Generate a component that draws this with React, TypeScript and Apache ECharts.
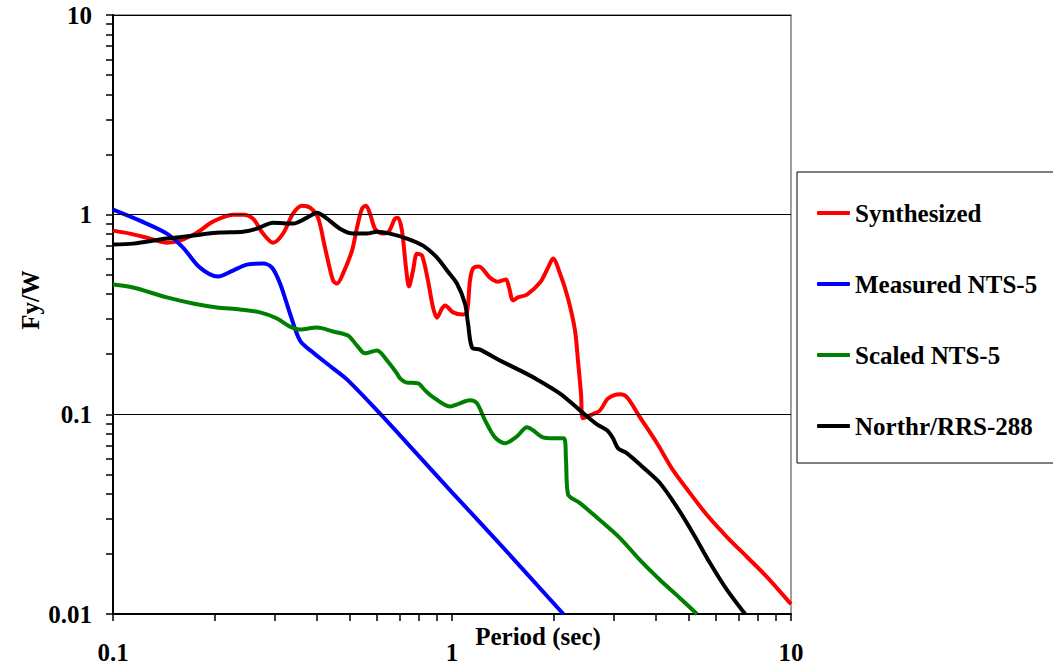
import React, { useEffect, useRef } from "react";
import * as echarts from "echarts";

// Yield-strength spectra: Fy/W against period (sec), log-log axes.
const SERIES_NAMES = ["Synthesized", "Measured NTS-5", "Scaled NTS-5", "Northr/RRS-288"];
const SERIES_COLORS = ["#FF0000", "#0000FF", "#008000", "#000000"];

const synthesized: [number, number][] = [
  [0.1, 0.832], [0.1122, 0.804], [0.1285, 0.759], [0.1442, 0.724], [0.1576, 0.741],
  [0.1769, 0.813], [0.1972, 0.923], [0.2259, 1.0], [0.2418, 1.0], [0.2588, 0.955],
  [0.2771, 0.804], [0.2965, 0.724], [0.3174, 0.804], [0.3396, 1.012], [0.3609, 1.109],
  [0.3812, 1.084], [0.4025, 0.966], [0.422, 0.684], [0.4457, 0.468], [0.4579, 0.452],
  [0.477, 0.507], [0.507, 0.661], [0.5245, 0.861], [0.5425, 1.072], [0.5574, 1.109],
  [0.5728, 1.012], [0.5927, 0.851], [0.6215, 0.804], [0.6473, 0.813], [0.6788, 0.955],
  [0.6928, 0.966], [0.7119, 0.832], [0.7315, 0.543], [0.7467, 0.437], [0.7674, 0.525],
  [0.7885, 0.638], [0.8156, 0.624], [0.8494, 0.468], [0.879, 0.343], [0.9033, 0.305],
  [0.9344, 0.339], [0.9537, 0.351], [1.007, 0.324], [1.077, 0.316], [1.107, 0.324],
  [1.13, 0.468], [1.153, 0.537], [1.201, 0.55], [1.293, 0.484], [1.367, 0.462],
  [1.443, 0.473], [1.473, 0.432], [1.514, 0.372], [1.565, 0.385], [1.664, 0.398],
  [1.818, 0.457], [1.92, 0.543], [1.986, 0.603], [2.083, 0.507], [2.199, 0.38],
  [2.306, 0.263], [2.353, 0.186], [2.402, 0.127], [2.435, 0.0955], [2.554, 0.0989],
  [2.733, 0.1047], [2.885, 0.12], [3.13, 0.126], [3.283, 0.1218], [3.586, 0.0966],
  [4.025, 0.0716], [4.487, 0.0525], [5.036, 0.0403], [5.652, 0.0313], [6.474, 0.0243],
  [7.418, 0.0193], [8.5, 0.0153], [10, 0.0112],
];

const measuredNts5: [number, number][] = [
  [0.1, 1.06], [0.1201, 0.933], [0.1442, 0.804], [0.1609, 0.684], [0.1805, 0.543],
  [0.204, 0.49], [0.2259, 0.525], [0.2484, 0.562], [0.2771, 0.569], [0.2944, 0.543],
  [0.311, 0.452], [0.3327, 0.32], [0.356, 0.2344], [0.389, 0.204], [0.4457, 0.17],
  [0.4898, 0.1496], [0.6008, 0.1047], [0.7026, 0.0785], [1.0, 0.0407], [1.385, 0.0224],
  [2.13, 0.01],
];

const scaledNts5: [number, number][] = [
  [0.1, 0.447], [0.1146, 0.432], [0.1442, 0.385], [0.1722, 0.359], [0.2026, 0.343],
  [0.2369, 0.335], [0.2715, 0.324], [0.3046, 0.302], [0.3327, 0.275], [0.356, 0.266],
  [0.3998, 0.272], [0.4457, 0.26], [0.4933, 0.248], [0.5245, 0.221], [0.5537, 0.202],
  [0.6008, 0.209], [0.6433, 0.186], [0.6882, 0.16], [0.7026, 0.1514], [0.7315, 0.1445],
  [0.794, 0.143], [0.8326, 0.1318], [0.873, 0.123], [0.9865, 0.1096], [1.13, 0.1175],
  [1.185, 0.1135], [1.252, 0.0933], [1.339, 0.0767], [1.433, 0.0716], [1.555, 0.0776],
  [1.664, 0.0861], [1.734, 0.0832], [1.855, 0.0767], [1.986, 0.0759], [2.14, 0.0759],
  [2.169, 0.0589], [2.199, 0.0398], [2.385, 0.0359], [2.733, 0.0295], [3.13, 0.024],
  [3.586, 0.0186], [4.109, 0.0148], [4.706, 0.012], [5.28, 0.01],
];

const northridgeRrs288: [number, number][] = [
  [0.1, 0.708], [0.1146, 0.716], [0.1442, 0.759], [0.1805, 0.794], [0.2068, 0.813],
  [0.2418, 0.822], [0.266, 0.851], [0.2965, 0.912], [0.3396, 0.902], [0.3736, 0.966],
  [0.3998, 1.023], [0.4278, 0.955], [0.4673, 0.851], [0.5105, 0.804], [0.5614, 0.804],
  [0.6008, 0.822], [0.6562, 0.804], [0.7368, 0.759], [0.8213, 0.7], [0.9033, 0.61],
  [0.9667, 0.525], [1.034, 0.452], [1.092, 0.359], [1.115, 0.285], [1.146, 0.216],
  [1.21, 0.211], [1.385, 0.186], [1.587, 0.166], [1.781, 0.1496], [2.083, 0.127],
  [2.385, 0.1047], [2.677, 0.0891], [2.866, 0.0832], [2.985, 0.0759], [3.089, 0.0676],
  [3.283, 0.0638], [3.659, 0.0543], [4.109, 0.0452], [4.61, 0.0343], [5.139, 0.0254],
  [5.769, 0.018], [6.474, 0.0132], [7.32, 0.01],
];

// Log-cycle tick positions (1..9 within each decade)
const xTickValues = [
  0.1, 0.2, 0.3, 0.4, 0.5, 0.6, 0.7, 0.8, 0.9,
  1, 2, 3, 4, 5, 6, 7, 8, 9, 10,
];
const yTickValues = [
  0.01, 0.02, 0.03, 0.04, 0.05, 0.06, 0.07, 0.08, 0.09,
  0.1, 0.2, 0.3, 0.4, 0.5, 0.6, 0.7, 0.8, 0.9,
  1, 2, 3, 4, 5, 6, 7, 8, 9, 10,
];
// Horizontal grid lines at the decades
const yGridValues = [0.1, 1, 10];

const X_MIN = 0.1;
const X_MAX = 10;
const Y_MIN = 0.01;
const Y_MAX = 10;

const FONT = "'Liberation Serif', 'Times New Roman', serif";

const GRID = { left: 113, top: 15, width: 678, height: 599 };

const fmt = (v: number) => String(Number(v.toPrecision(3)));

export default function App() {
  const mainRef = useRef<HTMLDivElement>(null);
  const tickRef = useRef<HTMLDivElement>(null);

  useEffect(() => {
    if (!mainRef.current || !tickRef.current) return;
    const chart = echarts.init(mainRef.current, undefined, { renderer: "svg" });
    const ticks = echarts.init(tickRef.current, undefined, { renderer: "svg" });

    const lineSeries: any[] = [synthesized, measuredNts5, scaledNts5, northridgeRrs288].map((data, i) => ({
      name: SERIES_NAMES[i],
      type: "line",
      data,
      symbol: "none",
      smooth: 0.3,
      lineStyle: { width: 4 },
    }));
    lineSeries[0].markLine = {
      silent: true,
      symbol: ["none", "none"],
      label: { show: false },
      lineStyle: { color: "#000", width: 1, type: "solid" },
      data: yGridValues.map((v) => ({ yAxis: v })),
    };

    chart.setOption({
      animation: false,
      backgroundColor: "#ffffff",
      color: SERIES_COLORS,
      grid: {
        ...GRID,
        show: true,
        borderColor: "#808080",
        borderWidth: 1.5,
        backgroundColor: "transparent",
        outerBoundsMode: "none",
      },
      xAxis: {
        type: "log",
        logBase: 10,
        min: X_MIN,
        max: X_MAX,
        axisLine: { show: true, lineStyle: { color: "#000", width: 2 } },
        axisTick: { show: false },
        splitLine: { show: false },
        minorTick: { show: false },
        axisLabel: {
          margin: 26,
          fontFamily: FONT,
          fontWeight: "bold",
          fontSize: 25,
          color: "#000",
          formatter: (v: number) => fmt(v),
        },
      },
      yAxis: {
        type: "log",
        logBase: 10,
        min: Y_MIN,
        max: Y_MAX,
        axisLine: { show: true, lineStyle: { color: "#000", width: 2 } },
        axisTick: { show: false },
        splitLine: { show: false },
        minorTick: { show: false },
        axisLabel: {
          margin: 21,
          fontFamily: FONT,
          fontWeight: "bold",
          fontSize: 25,
          color: "#000",
          formatter: (v: number) => fmt(v),
        },
      },
      legend: {
        data: SERIES_NAMES,
        orient: "vertical",
        left: 817,
        top: 200,
        padding: 0,
        itemWidth: 33,
        itemHeight: 4,
        itemGap: 45,
        icon: "roundRect",
        textStyle: {
          fontFamily: FONT,
          fontWeight: "bold",
          fontSize: 25,
          lineHeight: 26,
          color: "#000",
        },
      },
      graphic: [
        {
          type: "rect",
          z: 1,
          shape: { x: 797, y: 172, width: 300, height: 291 },
          style: { fill: "#fff", stroke: "#000" },
        },
        {
          type: "text",
          x: 30,
          y: 300,
          rotation: Math.PI / 2,
          style: {
            text: "Fy/W",
            font: `bold 25px ${FONT}`,
            fill: "#000",
            align: "center",
            verticalAlign: "middle",
          },
        },
        {
          type: "text",
          x: 538,
          y: 636,
          style: {
            text: "Period (sec)",
            font: `bold 25px ${FONT}`,
            fill: "#000",
            align: "center",
            verticalAlign: "middle",
          },
        },
      ],
      series: lineSeries,
    });

    // Transparent layer carrying the log-cycle tick marks on the same axes
    ticks.setOption({
      animation: false,
      grid: { ...GRID },
      xAxis: {
        type: "log",
        min: X_MIN,
        max: X_MAX,
        axisLine: { show: false },
        axisTick: { show: true, customValues: xTickValues, length: 7, lineStyle: { color: "#000", width: 1.5 } },
        axisLabel: { show: false },
        splitLine: { show: false },
      },
      yAxis: {
        type: "log",
        min: Y_MIN,
        max: Y_MAX,
        axisLine: { show: false },
        axisTick: { show: true, customValues: yTickValues, length: 7, lineStyle: { color: "#000", width: 1.5 } },
        axisLabel: { show: false },
        splitLine: { show: false },
      },
      series: [],
    });

    return () => {
      ticks.dispose();
      chart.dispose();
    };
  }, []);

  return (
    <div style={{ position: "fixed", left: 0, top: 0, width: 1053, height: 668 }}>
      <div ref={mainRef} style={{ position: "absolute", left: 0, top: 0, width: 1053, height: 668 }} />
      <div
        ref={tickRef}
        style={{ position: "absolute", left: 0, top: 0, width: 1053, height: 668, pointerEvents: "none" }}
      />
    </div>
  );
}
